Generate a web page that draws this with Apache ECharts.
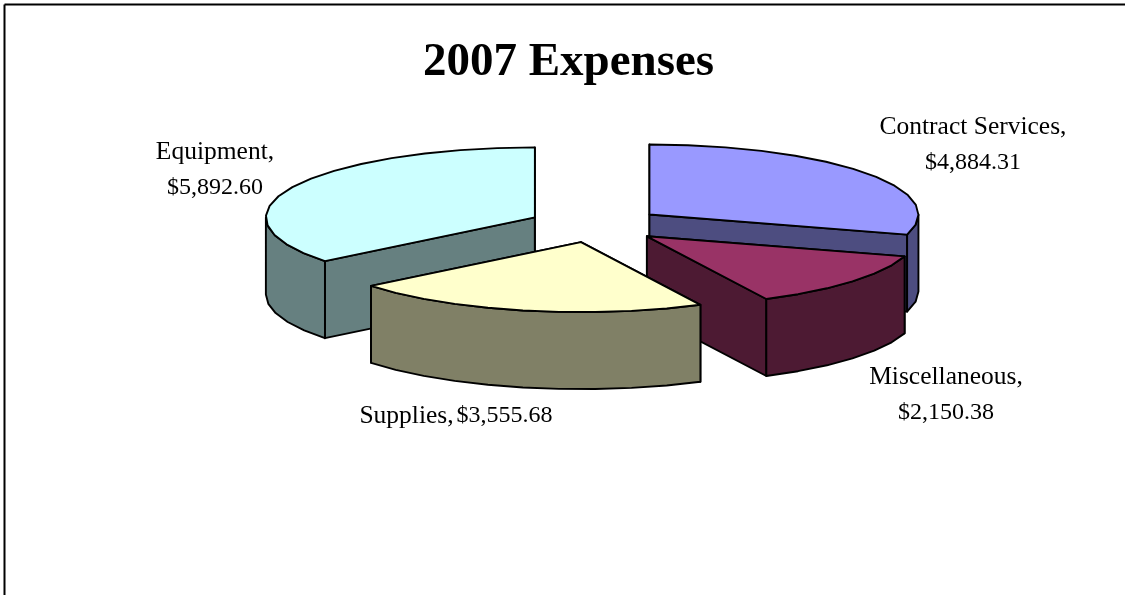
<!DOCTYPE html>
<html>
<head>
<meta charset="utf-8">
<title>2007 Expenses</title>
<script src="https://cdn.jsdelivr.net/npm/echarts@6/dist/echarts.min.js"></script>
<style>
html, body { margin: 0; padding: 0; background: #fff; }
#chart { width: 1125px; height: 595px; }
</style>
</head>
<body>
<div id="chart"></div>
<script>
var categories = ['Contract Services', 'Miscellaneous', 'Supplies', 'Equipment'];
var expenses = [4884.31, 2150.38, 3555.68, 5892.60];
var topColors = ['#9999ff', '#993366', '#ffffcc', '#ccffff'];
var sideColors = ['#4d4d80', '#4d1a33', '#808066', '#668080'];

// centre of each text block, same order as categories
var labelAnchors = [[973, 145], [946, 395], [456, 416], [215, 170]];
var labelBreaks = ['\n', '\n', ' ', '\n'];

// the flattened, exploded pie
var cx = 595.5, cy = 225, rx = 269, ry = 70, depth = 77;
var explode = 0.25;
var arcStep = 8 * Math.PI / 180;

var total = expenses.reduce(function (a, b) { return a + b; }, 0);

function money(v) {
    return '$' + v.toFixed(2).replace(/\B(?=(\d{3})+\.)/g, ',');
}

function renderSlice(params, api) {
    var i = params.dataIndex;
    var before = 0;
    for (var k = 0; k < i; k++) before += expenses[k];
    var start = before / total * 2 * Math.PI;
    var end = start + api.value(0) / total * 2 * Math.PI;
    var mid = (start + end) / 2;
    var ox = cx + explode * rx * Math.sin(mid);
    var oy = cy - explode * ry * Math.cos(mid);

    function pt(a, dz) {
        return [ox + rx * Math.sin(a), oy - ry * Math.cos(a) + dz];
    }
    function arc(a0, a1, dz) {
        var pts = [];
        var n = Math.max(1, Math.round((a1 - a0) / arcStep));
        for (var j = 0; j <= n; j++) pts.push(pt(a0 + (a1 - a0) * j / n, dz));
        return pts;
    }
    function face(points, fill, z2) {
        return {
            type: 'polygon',
            z2: z2,
            shape: { points: points },
            style: { fill: fill, stroke: '#000', lineWidth: 1.9, lineJoin: 'round' }
        };
    }

    // slices further back are painted first
    var z = Math.round((1 - Math.cos(mid)) * 10) * 10;
    var apex = [ox, oy];
    var apexLow = [ox, oy + depth];
    var side = sideColors[i];
    var children = [
        face([apex, pt(start, 0), pt(start, depth), apexLow], side, z),
        face([apex, pt(end, 0), pt(end, depth), apexLow], side, z + 1)
    ];
    var w0 = Math.max(start, Math.PI / 2);
    var w1 = Math.min(end, Math.PI * 3 / 2);
    if (w1 > w0) {
        children.push(face(arc(w0, w1, 0).concat(arc(w0, w1, depth).reverse()), side, z + 2));
    }
    children.push(face([apex].concat(arc(start, end, 0)), topColors[i], z + 3));
    children.push({
        type: 'text',
        z2: 100,
        x: labelAnchors[i][0],
        y: labelAnchors[i][1],
        style: {
            text: '{n|' + categories[i] + ',}' + labelBreaks[i] + '{v|' + money(api.value(0)) + '}',
            fill: '#000',
            fontFamily: 'Liberation Serif',
            align: 'center',
            verticalAlign: 'middle',
            rich: {
                n: { fontFamily: 'Liberation Serif', fontSize: 25.5, lineHeight: 36, fill: '#000' },
                v: { fontFamily: 'Liberation Serif', fontSize: 24, lineHeight: 36, fill: '#000' }
            }
        }
    });
    return { type: 'group', children: children };
}

var myChart = echarts.init(document.getElementById('chart'));

var option = {
    animation: false,
    backgroundColor: '#fff',
    title: {
        text: '2007 Expenses',
        left: 563.5,
        top: 34,
        textAlign: 'center',
        textStyle: { fontFamily: 'Liberation Serif', fontSize: 47, fontWeight: 'bold', color: '#000' }
    },
    tooltip: { show: false },
    // chart frame, only top and left show in the picture
    graphic: [
        { type: 'line', shape: { x1: 4.5, y1: 4.5, x2: 1125, y2: 4.5 }, style: { stroke: '#000', lineWidth: 2 } },
        { type: 'line', shape: { x1: 4.5, y1: 4.5, x2: 4.5, y2: 595 }, style: { stroke: '#000', lineWidth: 2 } }
    ],
    series: [{
        type: 'custom',
        coordinateSystem: 'none',
        renderItem: renderSlice,
        data: expenses.map(function (v, i) { return { name: categories[i], value: [v] }; })
    }]
};

myChart.setOption(option);
</script>
</body>
</html>
